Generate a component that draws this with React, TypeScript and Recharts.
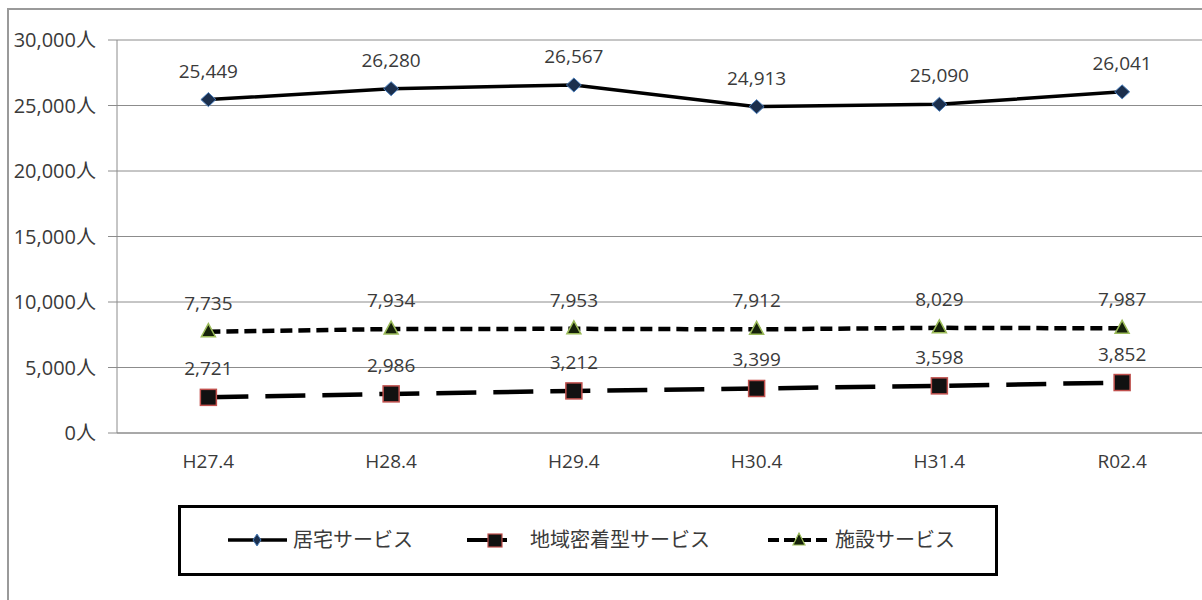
import React from 'react';
import { LineChart, Line, XAxis, YAxis, CartesianGrid, LabelList, Legend } from 'recharts';

const categories = ['H27.4', 'H28.4', 'H29.4', 'H30.4', 'H31.4', 'R02.4'];
const homeCare = [25449, 26280, 26567, 24913, 25090, 26041];
const communityCare = [2721, 2986, 3212, 3399, 3598, 3852];
const facilityCare = [7735, 7934, 7953, 7912, 8029, 7987];
const yTicks = [0, 5000, 10000, 15000, 20000, 25000, 30000];
const boundaryTicks = [0, 1, 2, 3, 4, 5, 6];

const seriesNames = {
  home: '居宅サービス',
  community: '地域密着型サービス',
  facility: '施設サービス',
};

const data = categories.map((name, i) => ({
  name,
  home: homeCare[i],
  community: communityCare[i],
  facility: facilityCare[i],
}));

const FONT = "'Open Sans', 'Noto Sans CJK JP', sans-serif";
const JP = "'Noto Sans CJK JP', sans-serif";
const GRID = '#8c8c8c';
const TEXT = '#3a3a3a';
const HALF_BAND = 91.375;

const fmt = (v: any) => Number(v).toLocaleString('en-US');

const Diamond = (p: any) => {
  const { cx, cy } = p;
  if (cx == null || cy == null) return null;
  return (
    <path
      key={`d-${cx}`}
      d={`M${cx},${cy - 7} L${cx + 7.5},${cy} L${cx},${cy + 7} L${cx - 7.5},${cy} Z`}
      fill="#1b2f4d"
      stroke="#4a7ebb"
      strokeWidth={1}
    />
  );
};

const Square = (p: any) => {
  const { cx, cy } = p;
  if (cx == null || cy == null) return null;
  return (
    <rect key={`s-${cx}`} x={cx - 8} y={cy - 8} width={16} height={16} fill="#111" stroke="#c0504d" strokeWidth={1.5} />
  );
};

const Triangle = (p: any) => {
  const { cx, cy } = p;
  if (cx == null || cy == null) return null;
  return (
    <path
      key={`t-${cx}`}
      d={`M${cx},${cy - 8} L${cx + 7},${cy + 5} L${cx - 7},${cy + 5} Z`}
      fill="#16220a"
      stroke="#9bbb59"
      strokeWidth={1.5}
    />
  );
};

const LegendBox = () => (
  <div style={{ position: 'relative', width: '100%', height: '100%', fontFamily: JP, fontSize: 20, color: TEXT }}>
    <svg width={60} height={20} style={{ position: 'absolute', left: 47, top: 22 }}>
      <line x1={0} y1={10} x2={59} y2={10} stroke="#000" strokeWidth={3.5} />
      <path d="M29,4 L33,10 L29,16 L25,10 Z" fill="#1b2f4d" stroke="#4a7ebb" strokeWidth={1} />
    </svg>
    <span style={{ position: 'absolute', left: 112, top: 17, lineHeight: '28px' }}>{seriesNames.home}</span>
    <svg width={42} height={20} style={{ position: 'absolute', left: 286, top: 22 }}>
      <line x1={0} y1={10} x2={40} y2={10} stroke="#000" strokeWidth={4} />
      <rect x={21} y={4} width={14} height={13} fill="#111" stroke="#c0504d" strokeWidth={1.2} />
    </svg>
    <span style={{ position: 'absolute', left: 349, top: 17, lineHeight: '28px' }}>{seriesNames.community}</span>
    <svg width={66} height={20} style={{ position: 'absolute', left: 587, top: 22 }}>
      <line x1={0} y1={10} x2={64} y2={10} stroke="#000" strokeWidth={4} strokeDasharray="11 5" />
      <path d="M31,3 L37,15 L25,15 Z" fill="#16220a" stroke="#9bbb59" strokeWidth={1.2} />
    </svg>
    <span style={{ position: 'absolute', left: 654, top: 17, lineHeight: '28px' }}>{seriesNames.facility}</span>
  </div>
);

export default function App() {
  return (
    <div style={{ position: 'absolute', left: 0, top: 0, width: 1202, height: 600, overflow: 'hidden', background: '#fff' }}>
      <div
        style={{
          position: 'absolute',
          left: 7,
          top: 8,
          width: 1400,
          height: 800,
          border: '2px solid #9a9a9a',
        }}
      />
      <LineChart width={1230} height={600} data={data} margin={{ top: 40, right: 16.5, bottom: 137, left: 0 }}>
        <CartesianGrid vertical={false} stroke={GRID} strokeWidth={1} xAxisId="main" />
        <XAxis
          xAxisId="edges"
          type="number"
          domain={[0, 6]}
          ticks={boundaryTicks}
          allowDataOverflow
          height={0}
          axisLine={false}
          tick={false}
          tickSize={5}
          tickLine={{ stroke: GRID }}
        />
        <XAxis
          xAxisId="main"
          dataKey="name"
          height={30}
          padding={{ left: HALF_BAND, right: HALF_BAND }}
          axisLine={{ stroke: GRID }}
          tickLine={false}
          tickSize={0}
          tickMargin={22}
          tick={{ fontFamily: FONT, fontSize: 19, fill: TEXT }}
        />
        <YAxis
          width={117}
          domain={[0, 30000]}
          ticks={yTicks}
          interval={0}
          tickFormatter={(v: number) => `${fmt(v)}人`}
          axisLine={{ stroke: GRID }}
          tickLine={{ stroke: GRID }}
          tickSize={9}
          tickMargin={12}
          tick={{ fontFamily: FONT, fontSize: 20, fill: TEXT }}
        />
        <Legend
          layout="horizontal"
          verticalAlign="middle"
          align="center"
          wrapperStyle={{
            left: 178,
            top: 505,
            width: 820,
            height: 71,
            border: '3px solid #000',
            boxSizing: 'border-box',
            background: '#fff',
          }}
          content={() => <LegendBox />}
        />
        <Line
          xAxisId="main"
          dataKey="home"
          name={seriesNames.home}
          stroke="#000"
          strokeWidth={3.5}
          dot={Diamond}
          activeDot={false}
          isAnimationActive={false}
        >
          <LabelList dataKey="home" position="top" offset={22} formatter={fmt} style={{ fontFamily: FONT, fontSize: 19, fill: TEXT }} />
        </Line>
        <Line
          xAxisId="main"
          dataKey="community"
          name={seriesNames.community}
          stroke="#000"
          strokeWidth={4.5}
          strokeDasharray="40 17"
          dot={Square}
          activeDot={false}
          isAnimationActive={false}
        >
          <LabelList dataKey="community" position="top" offset={22} formatter={fmt} style={{ fontFamily: FONT, fontSize: 19, fill: TEXT }} />
        </Line>
        <Line
          xAxisId="main"
          dataKey="facility"
          name={seriesNames.facility}
          stroke="#000"
          strokeWidth={4.5}
          strokeDasharray="12 6"
          dot={Triangle}
          activeDot={false}
          isAnimationActive={false}
        >
          <LabelList dataKey="facility" position="top" offset={22} formatter={fmt} style={{ fontFamily: FONT, fontSize: 19, fill: TEXT }} />
        </Line>
      </LineChart>
    </div>
  );
}
